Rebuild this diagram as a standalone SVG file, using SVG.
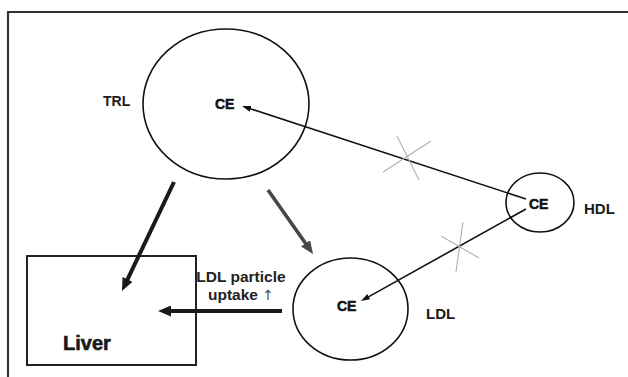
<svg xmlns="http://www.w3.org/2000/svg" width="628" height="377" viewBox="0 0 628 377">
<style>
.ell{fill:none;stroke:#111;stroke-width:1.6}
.lbl{font-family:"Liberation Sans",Arial,sans-serif;font-weight:bold;fill:#1a1a1a}
.ce{font-family:"Liberation Sans",Arial,sans-serif;font-weight:bold;font-size:14px;fill:#111;stroke:#111;stroke-width:0.5}
.up{font-family:"Liberation Sans",Arial,sans-serif;font-weight:bold;font-size:15.5px;fill:#222;text-anchor:middle}
.thin{stroke:#111;stroke-width:1.6;fill:none}
.x{stroke:#b0b0b0;stroke-width:1.1}
</style>
<defs>
<marker id="ahB" markerUnits="userSpaceOnUse" markerWidth="13" markerHeight="11" refX="2" refY="5.5" orient="auto"><path d="M0,0 L13,5.5 L0,11 z" fill="#1a1a1a"/></marker>
<marker id="ahG" markerUnits="userSpaceOnUse" markerWidth="13" markerHeight="11" refX="2" refY="5.5" orient="auto"><path d="M0,0 L13,5.5 L0,11 z" fill="#474747"/></marker>
<marker id="ahT" markerUnits="userSpaceOnUse" markerWidth="9" markerHeight="6" refX="2" refY="3" orient="auto"><path d="M0,0 L9,3 L0,6 z" fill="#111"/></marker>
</defs>
<rect width="628" height="377" fill="#fff"/>
<path d="M8,377 V12 H628" fill="none" stroke="#333" stroke-width="2.2"/>

<g id="trl">
<ellipse class="ell" cx="226" cy="104" rx="83" ry="75"/>
<text class="ce" x="215" y="109">CE</text>
<text class="lbl" x="103" y="106" font-size="14">TRL</text>
</g>
<g id="hdl">
<ellipse class="ell" cx="540" cy="202.5" rx="34" ry="29.5"/>
<text class="ce" x="529" y="209">CE</text>
<text class="lbl" x="584" y="214" font-size="15">HDL</text>
</g>
<g id="ldl">
<ellipse class="ell" cx="350.5" cy="309" rx="57.5" ry="51"/>
<text class="ce" x="337" y="311">CE</text>
<text class="lbl" x="426" y="319" font-size="15">LDL</text>
</g>
<g id="liver">
<rect x="27" y="256" width="169" height="109" fill="none" stroke="#222" stroke-width="2"/>
<text class="lbl" x="63" y="350" font-size="20" stroke="#1a1a1a" stroke-width="0.6">Liver</text>
</g>

<g id="connectors">
<line x1="174" y1="182" x2="126.7" y2="281.1" stroke="#1a1a1a" stroke-width="4" marker-end="url(#ahB)"/>
<line x1="268" y1="190" x2="306.7" y2="245" stroke="#474747" stroke-width="3.6" marker-end="url(#ahG)"/>
<line x1="282" y1="311" x2="169" y2="311" stroke="#1a1a1a" stroke-width="4" marker-end="url(#ahB)"/>
<line class="thin" x1="526" y1="199" x2="248.7" y2="108.2" marker-end="url(#ahT)"/>
<line class="thin" x1="526" y1="209" x2="367.1" y2="297.6" marker-end="url(#ahT)"/>
<line class="x" x1="397" y1="136" x2="419" y2="180"/>
<line class="x" x1="383" y1="172" x2="431" y2="141"/>
<line class="x" x1="463" y1="222" x2="456" y2="272"/>
<line class="x" x1="441" y1="236" x2="479" y2="258"/>
<text class="up" x="241" y="282">LDL particle</text>
<text class="up" x="241" y="300">uptake <tspan font-family="DejaVu Sans" font-weight="normal" font-size="14" fill="#555">↑</tspan></text>
</g>
</svg>
